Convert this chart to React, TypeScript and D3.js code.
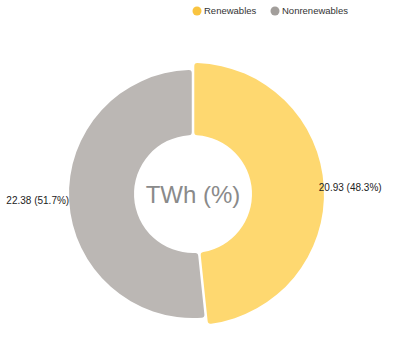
import React from "react";
import * as d3 from "d3";

const categories = ["Renewables", "Nonrenewables"];
const values = [20.93, 22.38];
const sliceColors = ["#FED870", "#BBB7B4"];
const legendColors = ["#F9C440", "#A29E9B"];
const centerLabel = "TWh (%)";

export default function App() {
  const width = 393;
  const height = 350;
  const cx = 193;
  const cy = 194;
  const inner = 59;
  const outers = [131, 124];
  const total = d3.sum(values);
  const pie = d3.pie<number>().sort(null).value((d) => d).padAngle(0.018);
  const arcs = pie(values);
  const fmt = d3.format(".2f");
  const pct = d3.format(".1%");
  const font = "'Liberation Sans', Arial, sans-serif";

  return (
    <svg
      width={width}
      height={height}
      style={{ position: "absolute", left: 0, top: 0, background: "#fff" }}
    >
      <g transform={`translate(${cx},${cy})`}>
        {arcs.map((a, i) => {
          const path = d3
            .arc<d3.PieArcDatum<number>>()
            .innerRadius(inner)
            .outerRadius(outers[i])
            .cornerRadius(3)(a) as string;
          return <path key={i} d={path} fill={sliceColors[i]} />;
        })}
        {arcs.map((a, i) => {
          const mid = (a.startAngle + a.endAngle) / 2;
          const r = 127;
          const x = r * Math.sin(mid);
          const y = -r * Math.cos(mid);
          const right = x > 0;
          return (
            <text
              key={"l" + i}
              x={right ? x - 1 : x + 3}
              y={y}
              dy="0.35em"
              textAnchor={right ? "start" : "end"}
              fontFamily={font}
              fontSize={10}
              fill="#222"
            >
              {`${fmt(values[i])} (${pct(values[i] / total)})`}
            </text>
          );
        })}
        <text
          x={0}
          y={9}
          textAnchor="middle"
          fontFamily={font}
          fontSize={24}
          fill="#8a8a8a"
        >
          {centerLabel}
        </text>
      </g>
      <g fontFamily={font} fontSize={9.5} fill="#333">
        {categories.map((c, i) => {
          const xs = [197, 275];
          return (
            <g key={c}>
              <circle cx={xs[i]} cy={11} r={4.5} fill={legendColors[i]} />
              <text x={xs[i] + 7} y={11} dy="0.35em">
                {c}
              </text>
            </g>
          );
        })}
      </g>
    </svg>
  );
}
